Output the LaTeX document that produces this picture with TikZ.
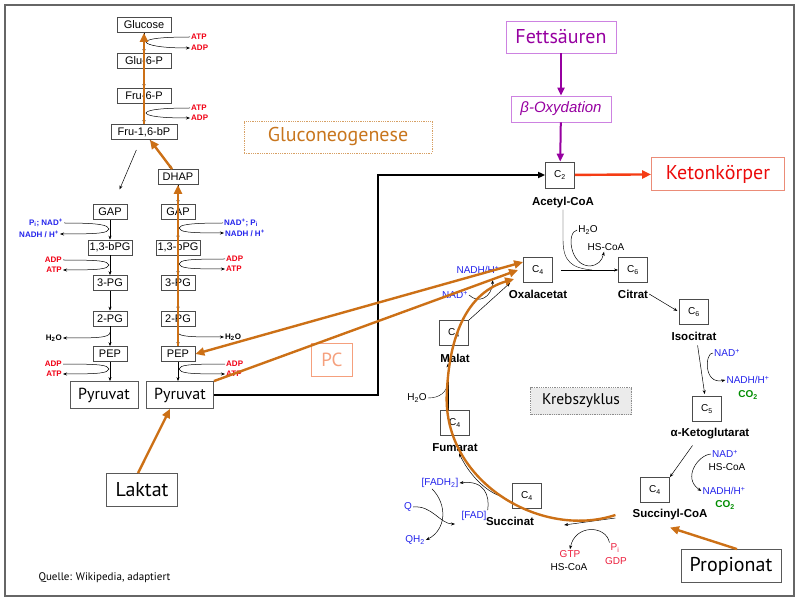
\documentclass[tikz,border=0pt]{standalone}
\usepackage{fontspec}
\setmainfont{Liberation Sans}
\newfontfamily\tahoma{PT Sans}
\usetikzlibrary{arrows.meta,positioning,calc}

\definecolor{gngorange}{RGB}{204,112,22}
\definecolor{gngtext}{RGB}{200,118,30}
\definecolor{gngline}{RGB}{215,160,100}
\definecolor{fapurple}{RGB}{150,0,160}
\definecolor{faline}{RGB}{205,130,225}
\definecolor{ketored}{RGB}{235,10,10}
\definecolor{ketoline}{RGB}{235,140,120}
\definecolor{ketoarrowred}{RGB}{245,60,20}
\definecolor{nadblue}{RGB}{35,35,235}
\definecolor{co2green}{RGB}{0,140,0}
\definecolor{atpred}{RGB}{240,0,20}
\definecolor{gtpred}{RGB}{235,30,60}
\definecolor{pclight}{RGB}{245,160,125}

\tikzset{
  stepbox/.style={draw=black!70, line width=.7pt, inner sep=1.5pt, minimum width=34pt, minimum height=15pt, font=\fontsize{11}{12}\selectfont},
  bigbox/.style={draw=black!65, line width=.8pt, inner sep=2pt, font=\tahoma\fontsize{20}{24}\selectfont},
  cbox/.style={draw=black!70, line width=.8pt, minimum width=29pt, minimum height=25pt, inner sep=0pt, font=\fontsize{10}{11}\selectfont},
  cname/.style={font=\bfseries\fontsize{11.5}{13}\selectfont, inner sep=1pt},
  cofac/.style={font=\bfseries\fontsize{8}{9}\selectfont, inner sep=1pt},
  kcofac/.style={font=\fontsize{10}{11}\selectfont, inner sep=1pt},
  flow/.style={-{Stealth[length=4pt,width=3pt]}, line width=.5pt},
  gngarrow/.style={line width=2.4pt, gngorange, >={Triangle[length=9pt,width=8pt]}},
  faarrow/.style={line width=2pt, fapurple, >={Triangle[length=8pt,width=7pt]}},
}

\begin{document}
\begin{tikzpicture}[x=1pt, y=-1pt]
    \useasboundingbox (0,0) rectangle (800,601);
    \draw[black!60, line width=1.5pt] (5,5) rectangle (794,596);

    % upper part of the glycolysis
    \node[stepbox, minimum width=54pt] (glc) at (144,25) {Glucose};
    \node[stepbox, minimum width=54pt] (g6p) at (144,61) {Glu-6-P};
    \node[stepbox, minimum width=54pt] (f6p) at (144,96) {Fru-6-P};
    \node[stepbox, minimum width=66pt] (fbp) at (144,132) {Fru-1,6-bP};
    \node[stepbox, minimum width=40pt] (dhap) at (178,177) {DHAP};

    % two columns
    \foreach \nm [count = \i] in {GAP, {1,3-bPG}, 3-PG, 2-PG, PEP}
        {
            \pgfmathsetmacro\ypos{176.5 + \i * 35.5};
            \node[stepbox] at (110,\ypos) (nodeL\i) {\nm};
            \node[stepbox] at (178,\ypos) (nodeR\i) {\nm};
        }
    \node[bigbox, font=\tahoma\fontsize{16}{18}\selectfont, minimum width=68pt, minimum height=27pt] (pyrL) at (104,395) {Pyruvat};
    \node[bigbox, font=\tahoma\fontsize{16}{18}\selectfont, minimum width=67pt, minimum height=27pt] (pyrR) at (180,395) {Pyruvat};
    \node[bigbox, minimum width=71pt, minimum height=33pt] (lak) at (142,490) {Laktat};

    \draw[flow] (glc) -- (g6p);
    \draw[flow] (g6p) -- (f6p);
    \draw[flow] (f6p) -- (fbp);
    \draw[flow] (fbp) -- (dhap);
    \draw[flow] (dhap) -- (nodeR1);
    \draw[flow, shorten <=11pt, shorten >=16pt] (fbp) -- (nodeL1);
    \foreach \i/\j in {1/2, 2/3, 3/4, 4/5}
        {
            \draw[flow] (nodeL\i) -- (nodeL\j);
            \draw[flow] (nodeR\i) -- (nodeR\j);
        }
    \draw[flow] (nodeL5.south) -- (nodeL5.south |- pyrL.north);
    \draw[flow] (nodeR5.south) -- (nodeR5.south |- pyrR.north);

    % cofactors, upper part
    \node[cofac, atpred, anchor=west] (atpT1) at (190,37) {ATP};
    \node[cofac, atpred, anchor=west] (adpT1) at (190,48) {ADP};
    \node[cofac, atpred, anchor=west] (atpT2) at (190,108) {ATP};
    \node[cofac, atpred, anchor=west] (adpT2) at (190,118) {ADP};
    \draw[flow] (atpT1.west) .. controls (160,37) and (147,39) .. (146,42) .. controls (147,45) and (160,48) .. (adpT1.west);
    \draw[flow] (atpT2.west) .. controls (160,108) and (147,110) .. (146,113) .. controls (147,116) and (160,118) .. (adpT2.west);

    % cofactors, left column
    \node[cofac, nadblue, anchor=east] (nadL) at (64,223) {P\textsubscript{i}; NAD\textsuperscript{+}};
    \node[cofac, nadblue, anchor=east] (nadhL) at (60,234) {NADH / H\textsuperscript{+}};
    \node[cofac, atpred, anchor=east] (adpL1) at (63,260) {ADP};
    \node[cofac, atpred, anchor=east] (atpL1) at (63,270) {ATP};
    \node[cofac, anchor=east] (h2oL) at (63,338) {H\textsubscript{2}O};
    \node[cofac, atpred, anchor=east] (adpL2) at (63,364) {ADP};
    \node[cofac, atpred, anchor=east] (atpL2) at (63,374) {ATP};
    \draw[flow] (nadL.east) .. controls (100,223) and (108,225) .. (109,229) .. controls (108,233) and (100,234) .. (nadhL.east);
    \draw[flow] (adpL1.east) .. controls (100,260) and (108,261) .. (109,265) .. controls (108,269) and (100,270) .. (atpL1.east);
    \draw[flow] ([yshift=-6pt]nodeL4.south) .. controls (110,338) and (95,338) .. (h2oL.east);
    \draw[flow] (adpL2.east) .. controls (100,364) and (108,365) .. (109,369) .. controls (108,373) and (100,374) .. (atpL2.east);

    % cofactors, right column
    \node[cofac, nadblue, anchor=west] (nadR) at (223,223) {NAD\textsuperscript{+}; P\textsubscript{i}};
    \node[cofac, nadblue, anchor=west] (nadhR) at (224,233) {NADH / H\textsuperscript{+}};
    \node[cofac, atpred, anchor=west] (adpR1) at (225,259) {ADP};
    \node[cofac, atpred, anchor=west] (atpR1) at (225,269) {ATP};
    \node[cofac, anchor=west] (h2oR) at (224,337) {H\textsubscript{2}O};
    \node[cofac, atpred, anchor=west] (adpR2) at (225,364) {ADP};
    \node[cofac, atpred, anchor=west] (atpR2) at (225,374) {ATP};
    \draw[flow] (nadR.west) .. controls (188,223) and (180,225) .. (179,228) .. controls (180,232) and (188,233) .. (nadhR.west);
    \draw[flow] (adpR1.west) .. controls (188,259) and (180,260) .. (179,264) .. controls (180,268) and (188,269) .. (atpR1.west);
    \draw[flow] ([yshift=-6pt]nodeR4.south) .. controls (178,337) and (195,337) .. (h2oR.west);
    \draw[flow] (adpR2.west) .. controls (188,364) and (180,365) .. (179,369) .. controls (180,373) and (188,374) .. (atpR2.west);

    % labels
    \node[draw=gngline, densely dotted, line width=.8pt, text=gngtext, font=\tahoma\fontsize{20}{24}\selectfont, minimum width=188pt, minimum height=32pt] (gnglabel) at (338,137) {Gluconeogenese};
    \node[draw=pclight, text=pclight, font=\tahoma\fontsize{19}{22}\selectfont, minimum width=41pt, minimum height=33pt, inner sep=1pt] (pc) at (332,360) {PC};
    \node[draw=black!45, densely dotted, fill=black!8, line width=.8pt, font=\tahoma\fontsize{15.5}{18}\selectfont, minimum width=101pt, minimum height=27pt] (krebs) at (581,401) {Krebszyklus};
    \node[font=\tahoma\fontsize{11}{13}\selectfont, anchor=west] (src) at (35,578) {Quelle: Wikipedia, adaptiert};

    % fatty acids, ketone bodies
    \node[draw=faline, line width=.8pt, text=fapurple, font=\tahoma\fontsize{20}{24}\selectfont, minimum width=110pt, minimum height=32pt] (fa) at (561,37) {Fettsäuren};
    \node[draw=faline, line width=.8pt, text=fapurple, font=\itshape\fontsize{15}{17}\selectfont, minimum width=100pt, minimum height=26pt] (betaox) at (561,109) {β-Oxydation};
    \node[cbox, minimum height=26pt] (c2) at (560,175) {C\textsubscript{2}};
    \node[cname] (acLab) at (563,203) {Acetyl-CoA};
    \node[draw=ketoline, line width=.8pt, text=ketored, font=\tahoma\fontsize{20}{24}\selectfont, minimum width=133pt, minimum height=33pt] (keto) at (718,174) {Ketonkörper};
    \draw[faarrow, ->] (fa) -- (betaox);
    \draw[faarrow, ->] (betaox) -- (c2);
    \draw[line width=2.4pt, ketoarrowred, -{Triangle[length=9pt,width=8pt]}] (c2) -- (keto);

    % Krebs cycle
    \node[cbox] (oaa) at (538,270) {C\textsubscript{4}};
    \node[cbox] (cit) at (633,270) {C\textsubscript{6}};
    \node[cbox] (iso) at (694,312) {C\textsubscript{6}};
    \node[cbox] (akg) at (707,409) {C\textsubscript{5}};
    \node[cbox] (scoa) at (655,490) {C\textsubscript{4}};
    \node[cbox] (succ) at (527,496) {C\textsubscript{4}};
    \node[cbox] (fum) at (455,423) {C\textsubscript{4}};
    \node[cbox] (mal) at (454,333) {C\textsubscript{4}};
    \node[cname] (oaaLab) at (538,294) {Oxalacetat};
    \node[cname] (citLab) at (633,294) {Citrat};
    \node[cname] (isoLab) at (694,336) {Isocitrat};
    \node[cname] (akgLab) at (710,434) {α-Ketoglutarat};
    \node[cname] (scoaLab) at (670,515) {Succinyl-CoA};
    \node[cname] (succLab) at (510,521) {Succinat};
    \node[cname] (fumLab) at (455,448) {Fumarat};
    \node[cname] (malLab) at (455,358) {Malat};

    \node[kcofac] (h2oA) at (588,230) {H\textsubscript{2}O};
    \node[kcofac] (hscoaA) at (606,247) {HS-CoA};
    \node[kcofac, nadblue] (nadB) at (727,353) {NAD\textsuperscript{+}};
    \node[kcofac, nadblue] (nadhB) at (748,380) {NADH/H\textsuperscript{+}};
    \node[kcofac, co2green, font=\bfseries\fontsize{10}{11}\selectfont] (co2B) at (748,395) {CO\textsubscript{2}};
    \node[kcofac, nadblue] (nadC) at (725,454) {NAD\textsuperscript{+}};
    \node[kcofac] (hsC) at (727,467) {HS-CoA};
    \node[kcofac, nadblue] (nadhC) at (724,491) {NADH/H\textsuperscript{+}};
    \node[kcofac, co2green, font=\bfseries\fontsize{10}{11}\selectfont] (co2C) at (725,505) {CO\textsubscript{2}};
    \node[kcofac, gtpred] (piL) at (615,548) {P\textsubscript{i}};
    \node[kcofac, gtpred] (gdpL) at (616,561) {GDP};
    \node[kcofac, gtpred] (gtpL) at (570,554) {GTP};
    \node[kcofac] (hsD) at (569,567) {HS-CoA};
    \node[kcofac, nadblue] (fadh2L) at (440,483) {[FADH\textsubscript{2}]};
    \node[kcofac, nadblue] (fadL) at (474,516) {[FAD]};
    \node[kcofac, nadblue] (qL) at (408,507) {Q};
    \node[kcofac, nadblue] (qh2L) at (415,540) {QH\textsubscript{2}};
    \node[kcofac] (h2oF) at (417,398) {H\textsubscript{2}O};
    \node[kcofac, nadblue] (nadD) at (455,295) {NAD\textsuperscript{+}};
    \node[kcofac, nadblue] (nadhD) at (478,270) {NADH/H\textsuperscript{+}};
    \coordinate (join) at (592,270);
    \coordinate (qEnd) at (455,524);
    \coordinate (fumJoin) at (448,382);

    \draw[flow, shorten <=8pt] (oaa.east) -- (cit.west);
    \draw (acLab.south) -- ++(0,30) .. controls (563,262) and (572,268) .. (join);
    \draw[flow] (h2oA.west) .. controls (566,232) and (570,266) .. (590,266) .. controls (598,265) and (602,261) .. ([xshift=-2pt]hscoaA.south);
    \draw[flow, shorten >=2pt] (citLab.east) -- (iso.west);
    \draw[flow, shorten <=4pt, shorten >=2pt] ([xshift=3pt]isoLab.south) -- ([xshift=-2pt]akg.north);
    \draw[flow] (nadB.west) .. controls (705,352) and (703,385) .. (nadhB.west);
    \draw[flow, shorten <=6pt] ([xshift=-14pt]akgLab.south) -- (scoa.north east);
    \draw[flow] (nadC.west) .. controls (698,455) and (682,478) .. (nadhC.west);
    \draw[flow] ([xshift=-16pt,yshift=-3pt]scoaLab.west) -- ([xshift=29pt,yshift=-4pt]succLab.east);
    \draw[flow] (piL.north west) .. controls (606,525) and (575,524) .. (gtpL.north);
    \draw[flow] ([xshift=-12pt]succ.west) .. controls (486,491) and (470,476) .. ([xshift=4pt]fumLab.south);
    \draw[flow] (fadL.north east) .. controls (490,495) and (484,480) .. (fadh2L.east);
    \draw[flow] (qL.east) .. controls (432,505) and (440,524) .. (qEnd);
    \draw[flow] ([xshift=-8pt]fadh2L.south) .. controls (448,505) and (446,530) .. (qh2L.east);
    \draw[flow] ([xshift=-7pt]fum.north) -- ([xshift=-7pt]malLab.south);
    \draw (h2oF.east) .. controls (440,398) and (447,392) .. (fumJoin);
    \draw[flow] (mal.north east) -- ([xshift=-13pt]oaa.south west);
    \draw[flow] (nadD.east) .. controls (478,304) and (492,298) .. ([xshift=-8pt,yshift=-5pt]nadhD.south east);

    % pyruvate to acetyl-CoA
    \node[bigbox, minimum width=100pt, minimum height=33pt] (prop) at (731,566) {Propionat};
    \coordinate (kink) at (378,300);
    \draw[line width=1.8pt, -{Triangle[length=7pt,width=6pt]}] (pyrR.east) -| (kink) |- (c2.west);

    % gluconeogenesis path
    \draw[gngarrow, ->] (nodeR5.north) -- (dhap.south);
    \draw[gngarrow, ->] (dhap) -- (fbp);
    \draw[gngarrow, ->] (fbp.north) -- (glc.south);
    \draw[gngarrow, ->] ([xshift=-4pt]lak.north) -- ([xshift=-10pt]pyrR.south);
    \draw[gngarrow, <->] ([yshift=8pt]oaa.west) -- (nodeR5.east);
    \draw[gngarrow, ->] (pyrR.north east) -- ([xshift=-5pt]oaa.west);
    \draw[gngarrow, ->] ([xshift=-16pt]scoaLab.west) .. controls (540,540) and (440,480) .. (447,390) .. controls (450,330) and (470,292) .. ([xshift=-9pt,yshift=-9pt]oaa.west);
    \draw[gngarrow, ->] ([xshift=6pt]prop.north) -- ([yshift=-6pt]scoaLab.south);
\end{tikzpicture}
\end{document}
